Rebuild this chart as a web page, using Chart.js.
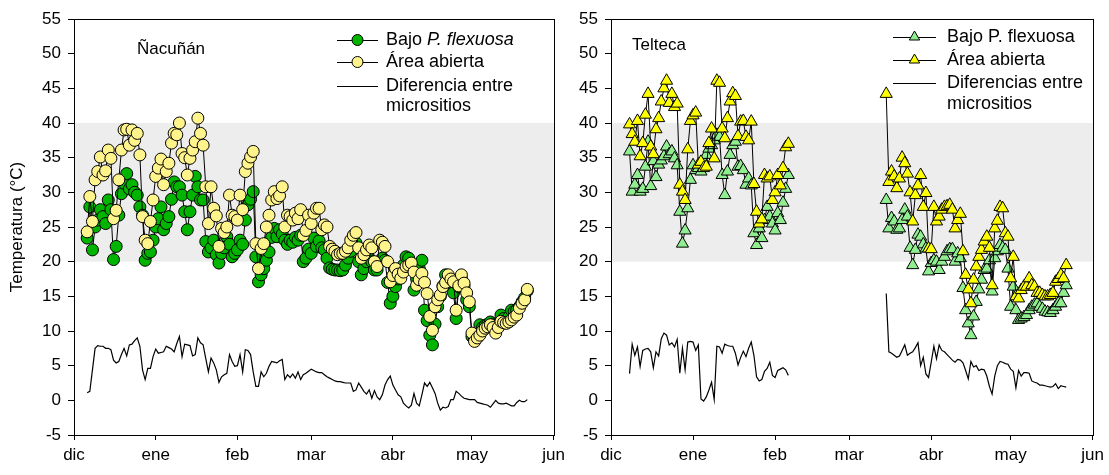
<!DOCTYPE html>
<html>
<head>
<meta charset="utf-8">
<script src="https://cdn.jsdelivr.net/npm/chart.js@4"></script>
<style>
  html, body { margin: 0; padding: 0; background: #fff; width: 1109px; height: 475px; overflow: hidden; }
  #wrap { position: relative; width: 1109px; height: 475px; }
  canvas { position: absolute; top: 0; }
  #left { left: 0; }
  #right { left: 565px; }
</style>
</head>
<body>
<div id="wrap">
  <canvas id="left" width="570" height="475" style="width:570px;height:475px"></canvas>
  <canvas id="right" width="544" height="475" style="width:544px;height:475px"></canvas>
</div>
<script>
// month axis: days counted from 1 December
const monthLabels = ['dic', 'ene', 'feb', 'mar', 'abr', 'may', 'jun'];
const monthDays = [0, 31, 62, 90, 121, 151, 182];
const band = [20, 40];

// Ñacuñán, daily values from day 5 (6 dic) to day 172
const nacStart = 5;
const nacOpen = [
  24.3, 29.4, 25.8, 31.8, 33.0, 35.1, 32.5, 33.1, 36.1, 34.9,
  26.2, 27.4, 31.8, 36.1, 39.0, 39.1, 36.8, 39.0, 37.5, 38.5,
  35.4, 26.5, 23.1, 22.6, 25.8, 28.9, 32.3, 33.5, 34.8, 31.1,
  33.0, 34.2, 37.1, 38.5, 38.3, 40.0, 35.6, 35.0, 32.5, 34.9,
  36.1, 37.3, 40.7, 38.5, 36.8, 30.8, 25.5, 30.8, 27.7, 26.6,
  22.2, 24.8, 24.2, 25.0, 29.6, 26.7, 26.5, 26.0, 29.6, 27.5,
  33.0, 34.2, 35.1, 35.9, 22.6, 19.0, 21.9, 22.6, 25.0, 26.7,
  28.9, 30.1, 29.1, 29.5, 30.8, 25.0, 26.7, 26.5, 26.0, 27.0,
  26.2, 27.5, 23.8, 24.5, 26.7, 25.5, 27.0, 27.7, 27.7, 24.6,
  25.3, 25.0, 22.2, 21.8, 21.5, 21.0, 21.2, 21.2, 21.5, 22.0,
  23.1, 23.8, 24.2, 22.0, 20.5, 21.0, 21.7, 22.4, 22.0, 20.0,
  19.3, 23.1, 22.8, 22.2, 20.0, 17.1, 18.0, 19.0, 18.2, 17.6,
  18.5, 19.3, 19.5, 19.8, 18.5, 16.6, 17.4, 18.3, 17.0, 15.4,
  12.1, 10.1, 13.5, 14.5, 15.2, 16.4, 17.0, 18.1, 17.5, 17.1,
  13.0, 16.5, 18.1, 16.9, 15.5, 14.2, 9.7, 8.5, 9.0, 9.4,
  10.0, 10.4, 10.6, 10.9, 10.5, 9.7, 10.5, 11.4, 11.2, 11.1,
  11.3, 11.6, 12.0, 12.3, 13.3, 14.0, 14.5, 16.0
];
const nacShade = [
  23.4, 27.9, 21.7, 25.0, 26.0, 27.5, 26.5, 25.5, 28.9, 27.5,
  20.3, 22.2, 26.7, 29.8, 31.3, 32.7, 30.5, 31.1, 30.0, 29.6,
  27.9, 26.7, 20.2, 21.2, 21.4, 23.1, 25.0, 26.2, 27.9, 24.6,
  25.5, 26.5, 29.0, 31.5, 30.8, 30.8, 29.6, 27.2, 24.6, 27.2,
  29.6, 32.3, 30.8, 28.9, 28.9, 22.9, 21.4, 22.0, 23.1, 21.0,
  19.8, 21.2, 22.0, 23.6, 22.5, 20.7, 21.2, 21.7, 23.1, 22.5,
  26.0, 28.2, 29.0, 30.1, 20.7, 17.1, 18.1, 19.0, 20.2, 21.4,
  23.5, 24.8, 23.6, 24.6, 24.0, 23.1, 22.5, 23.1, 22.8, 23.5,
  23.1, 23.8, 20.0, 20.5, 21.8, 21.2, 23.4, 22.2, 23.0, 22.0,
  21.7, 20.5, 19.1, 18.9, 18.8, 18.8, 18.7, 18.8, 19.5, 20.5,
  21.5, 22.7, 22.7, 20.0, 18.1, 19.0, 20.0, 20.5, 20.0, 18.8,
  18.8, 20.0, 20.5, 20.2, 17.0, 14.0, 15.0, 16.4, 17.5, 18.5,
  19.5, 20.7, 20.5, 19.0, 15.9, 17.5, 19.0, 20.2, 13.0, 11.5,
  9.4, 8.0, 11.0, 13.5, 15.0, 16.5, 18.1, 17.5, 17.0, 15.5,
  11.8, 16.4, 17.5, 16.5, 14.5, 13.5, 9.2, 8.8, 9.5, 10.9,
  10.5, 10.8, 11.0, 11.3, 11.0, 10.5, 11.0, 12.3, 11.8, 11.5,
  12.0, 13.0, 12.8, 13.0, 13.5, 14.2, 14.8, 15.8
];
const nacDiff = [
  1.1, 1.3, 4.4, 7.5, 7.9, 7.8, 7.8, 7.5, 7.5, 7.3,
  5.8, 5.4, 5.6, 6.6, 7.5, 6.4, 8.0, 8.1, 8.6, 9.0,
  7.8, 4.4, 3.0, 4.6, 4.6, 6.3, 7.4, 6.8, 6.9, 7.0,
  7.8, 7.6, 7.4, 7.0, 8.2, 9.2, 6.3, 8.1, 8.0, 7.9,
  6.4, 6.6, 9.0, 8.3, 8.0, 6.0, 4.1, 6.1, 5.4, 4.4,
  2.6, 3.4, 3.7, 3.9, 6.6, 5.6, 4.9, 5.0, 6.6, 4.1,
  7.3, 7.2, 6.6, 4.1, 2.0, 2.0, 4.1, 3.4, 3.9, 4.9,
  5.6, 5.5, 5.4, 5.7, 5.9, 3.0, 3.7, 3.3, 3.8, 3.2,
  4.1, 3.0, 3.7, 3.9, 4.2, 4.5, 4.3, 4.1, 4.0, 4.0,
  3.7, 3.4, 3.2, 3.0, 2.8, 2.7, 2.7, 2.6, 2.5, 2.5,
  2.5, 1.3, 1.5, 2.5, 1.9, 1.3, 0.9, 1.5, 0.3, 1.4,
  0.5, 0.1, 0.8, 2.2, 3.0, 3.5, 2.2, 1.5, 0.8, 0.5,
  -0.4, -0.8, -1.1, -0.7, 1.0, -0.4, -0.8, 0.8, 2.5, 2.0,
  2.6, 1.8, 1.0, -0.4, -1.4, -1.0, -1.1, -0.9, 0.1, 0.1,
  1.3, 1.0, 0.6, 0.3, 0.2, 0.1, 0.1, 0.1, -0.3, -0.4,
  -0.5, -0.6, -0.7, -1.0, -0.5, 0.0, -0.4, -0.5, -0.5, -0.4,
  -0.6, -0.8, -0.8, -0.3, 0.0, -0.2, -0.2, 0.1
];

// Telteca, two recording periods
const telStart1 = 7;
const telOpen1 = [
  39.8, 38.4, 37.3, 40.3, 35.2, 37.1, 41.2, 44.2, 36.6, 35.5,
  39.1, 40.7, 43.1, 45.0, 46.1, 42.9, 44.2, 42.3, 42.8, 31.1,
  30.1, 28.9, 36.2, 40.3, 41.1, 41.5, 34.0, 34.4, 33.5, 33.7,
  37.1, 39.2, 34.9, 46.1, 45.8, 39.2, 37.8, 40.7, 43.1, 44.3,
  43.9, 38.1, 40.2, 40.3, 38.0, 37.5, 40.2, 31.2, 27.2, 25.5,
  26.1, 32.5, 32.0, 32.3, 28.9, 30.0, 32.5, 31.0, 33.5, 36.5,
  37.0
];
const telShade1 = [
  35.9, 30.1, 31.1, 32.5, 30.1, 30.5, 33.7, 37.3, 30.9, 34.5,
  32.2, 34.0, 34.6, 35.2, 36.6, 35.5, 35.9, 34.9, 33.9, 27.2,
  22.6, 24.5, 27.7, 31.8, 33.9, 33.2, 33.5, 33.0, 34.5, 35.4,
  36.3, 36.8, 37.5, 38.3, 38.0, 32.5, 29.6, 33.0, 35.4, 36.8,
  37.3, 33.7, 33.8, 33.2, 31.1, 32.0, 31.0, 24.1, 22.4, 24.8,
  23.4, 26.0, 27.9, 26.5, 25.5, 24.5, 27.0, 26.0, 28.5, 30.5,
  32.5
];
const telDiff1 = [
  3.85, 8.1, 6.5, 7.7, 4.9, 7.2, 7.4, 7.5, 7.0, 4.7,
  7.0, 6.4, 8.9, 9.7, 9.4, 8.0, 8.3, 7.7, 8.8, 3.9,
  7.5, 4.4, 8.4, 8.5, 8.4, 7.2, 8.0, 0.2, -0.1, 0.5,
  1.5, 2.6, 0.1, 7.8, 7.7, 6.8, 8.1, 7.9, 7.8, 7.8,
  6.8, 5.1, 6.2, 7.1, 6.3, 7.5, 8.4, 6.5, 3.4, 2.8,
  3.0, 4.2, 4.6, 5.5, 3.6, 3.3, 4.3, 4.5, 4.7, 4.4,
  3.6
];
const telStart2 = 104;
const telOpen2 = [
  44.2, 31.5, 33.0, 32.3, 30.6, 32.0, 35.0, 34.2, 32.7, 30.0,
  25.8, 29.6, 31.0, 32.5, 27.9, 29.9, 21.9, 21.8, 27.9, 25.8,
  26.5, 27.5, 27.9, 28.0, 28.2, 27.5, 24.8, 26.0, 26.9, 21.5,
  18.1, 16.0, 14.0, 17.4, 19.3, 20.7, 21.7, 22.9, 23.6, 22.0,
  16.6, 24.8, 25.9, 27.9, 27.7, 24.1, 23.6, 17.6, 20.7, 15.0,
  14.7, 15.9, 16.4, 16.4, 17.6, 16.6, 16.4, 15.5, 15.5, 15.2,
  15.0, 15.0, 15.2, 15.5, 17.1, 17.5, 18.1, 17.6, 19.5
];
const telShade2 = [
  28.9, 24.8, 26.3, 25.8, 24.6, 24.8, 26.0, 27.5, 26.5, 22.0,
  19.5, 21.7, 23.9, 23.6, 22.5, 21.9, 18.6, 19.8, 20.2, 20.0,
  18.8, 20.0, 20.7, 21.5, 21.8, 21.8, 20.0, 21.2, 20.5, 16.2,
  13.0, 11.1, 9.4, 12.1, 14.2, 16.0, 17.4, 18.8, 19.0, 20.2,
  15.7, 20.5, 21.5, 22.4, 22.0, 21.7, 19.0, 13.5, 16.4, 13.0,
  11.6, 11.8, 12.0, 12.3, 13.0, 13.5, 13.8, 14.0, 13.5, 13.2,
  12.8, 12.7, 12.6, 13.0, 13.5, 14.0, 14.0, 15.5, 16.6
];
const telDiff2 = [
  15.4, 7.0, 6.8, 6.5, 6.2, 6.4, 7.2, 8.0, 6.5, 6.8,
  7.0, 7.6, 8.3, 5.0, 6.2, 3.8, 3.3, 5.5, 7.8, 6.0,
  8.0, 7.2, 7.0, 6.6, 6.2, 5.8, 5.5, 5.9, 5.8, 5.4,
  4.3, 3.1, 5.6, 4.8, 5.0, 4.3, 4.5, 4.4, 3.5, 2.0,
  0.9, 3.5, 5.0, 5.6, 5.5, 5.3, 5.2, 4.5, 4.2, 1.8,
  4.3, 3.5, 4.0, 4.0, 3.9, 2.8, 2.6, 2.5, 2.2, 2.2,
  2.1, 2.0, 1.9, 2.0, 2.4, 1.7, 2.1, 2.0, 1.9
];

const FONT = "'Liberation Sans', Arial, sans-serif";
Chart.defaults.font.family = FONT;
Chart.defaults.font.size = 17;
Chart.defaults.color = '#000';

function pts(start, vals) {
  return vals.map((v, i) => ({ x: start + i, y: v }));
}
function twoPeriods(a, b) {
  // null point breaks the line between the two periods
  return [...pts(telStart1, a), { x: telStart1 + a.length, y: null }, ...pts(telStart2, b)];
}

function drawMarker(ctx, type, x, y, r, fill) {
  ctx.beginPath();
  if (type === 'circle') {
    ctx.arc(x, y, r, 0, Math.PI * 2);
  } else {
    let rad = 0;
    for (let k = 0; k < 3; k++) {
      ctx.lineTo(x + Math.sin(rad) * r, y - Math.cos(rad) * r);
      rad += Math.PI * 2 / 3;
    }
    ctx.closePath();
  }
  ctx.fillStyle = fill;
  ctx.fill();
  ctx.lineWidth = 1;
  ctx.strokeStyle = '#000';
  ctx.stroke();
}

const bandPlugin = {
  id: 'band',
  beforeDatasetsDraw(chart) {
    const { ctx, chartArea: a, scales: { y } } = chart;
    const top = y.getPixelForValue(band[1]);
    const bot = y.getPixelForValue(band[0]);
    ctx.save();
    ctx.fillStyle = '#ededed';
    ctx.fillRect(a.left, top, a.right - a.left, bot - top);
    ctx.restore();
  }
};

const decorPlugin = {
  id: 'decor',
  afterDraw(chart, args, o) {
    const { ctx, chartArea: a } = chart;
    ctx.save();
    ctx.strokeStyle = '#000';
    ctx.lineWidth = 1;
    ctx.strokeRect(Math.round(a.left) + 0.5, Math.round(a.top) + 0.5, Math.round(a.right - a.left), Math.round(a.bottom - a.top));

    ctx.fillStyle = '#000';
    ctx.textBaseline = 'middle';
    ctx.font = '17px ' + FONT;
    ctx.fillText(o.title, o.titleX, o.titleY);

    const L = o.legend;
    L.rows.forEach((row, i) => {
      const y = L.y[i];
      if (row.line) {
        ctx.beginPath();
        ctx.moveTo(L.x0, y + 0.5);
        ctx.lineTo(L.x1, y + 0.5);
        ctx.lineWidth = 1;
        ctx.strokeStyle = '#000';
        ctx.stroke();
      }
      if (row.marker) drawMarker(ctx, row.marker, (L.x0 + L.x1) / 2, y, L.r, row.fill);
      let x = L.tx;
      row.text.forEach(part => {
        ctx.font = (part.italic ? 'italic ' : '') + '18px ' + FONT;
        ctx.fillStyle = '#000';
        ctx.fillText(part.t, x, y);
        x += ctx.measureText(part.t).width;
      });
    });
    ctx.restore();
  }
};

function makePanel(id, cfg) {
  return new Chart(document.getElementById(id), {
    type: 'line',
    data: { datasets: cfg.datasets },
    options: {
      responsive: false,
      animation: false,
      events: [],
      layout: { autoPadding: false, padding: { left: 0, right: cfg.padRight, top: 19, bottom: 0 } },
      plugins: { legend: { display: false }, tooltip: { enabled: false }, decor: cfg.decor },
      elements: { line: { tension: 0 } },
      scales: {
        x: {
          type: 'linear',
          min: 0,
          max: 182,
          afterBuildTicks: (axis) => { axis.ticks = monthDays.map(v => ({ value: v })); },
          afterFit: (s) => { s.height = 40; },
          ticks: {
            autoSkip: false,
            maxRotation: 0,
            padding: 5,
            callback: (v) => monthLabels[monthDays.indexOf(v)]
          },
          grid: { drawOnChartArea: false, tickLength: 5, color: '#000' },
          border: { color: '#000', width: 1 }
        },
        y: {
          min: -5,
          max: 55,
          afterFit: (s) => { s.width = cfg.yWidth; },
          ticks: { stepSize: 5, padding: 7 },
          grid: { drawOnChartArea: false, tickLength: 6, color: '#000' },
          border: { color: '#000', width: 1 },
          title: cfg.yTitle ? { display: true, text: cfg.yTitle, padding: { top: 7, bottom: 0 } } : { display: false }
        }
      }
    },
    plugins: [bandPlugin, decorPlugin]
  });
}

const lineStyle = { borderColor: '#000', borderWidth: 1, pointBorderColor: '#000', pointBorderWidth: 1 };

makePanel('left', {
  padRight: 10,
  yWidth: 74,
  yTitle: 'Temperatura (°C)',
  datasets: [
    { label: 'Área abierta', data: pts(nacStart, nacOpen), order: 1, pointStyle: 'circle', pointRadius: 6, pointBackgroundColor: '#fff48c', ...lineStyle },
    { label: 'Bajo P. flexuosa', data: pts(nacStart, nacShade), order: 2, pointStyle: 'circle', pointRadius: 6, pointBackgroundColor: '#00b400', ...lineStyle },
    { label: 'Diferencia entre micrositios', data: pts(nacStart, nacDiff), order: 3, pointRadius: 0, borderColor: '#000', borderWidth: 1.2 }
  ],
  decor: {
    title: 'Ñacuñán', titleX: 137, titleY: 49,
    legend: {
      x0: 337, x1: 378, tx: 386, r: 5.5,
      y: [40, 62, 86, 106],
      rows: [
        { line: true, marker: 'circle', fill: '#00b400', text: [{ t: 'Bajo ' }, { t: 'P. flexuosa', italic: true }] },
        { line: true, marker: 'circle', fill: '#fff48c', text: [{ t: 'Área abierta' }] },
        { line: true, text: [{ t: 'Diferencia entre' }] },
        { text: [{ t: 'micrositios' }] }
      ]
    }
  }
});

makePanel('right', {
  padRight: 12,
  yWidth: 46,
  datasets: [
    { label: 'Área abierta', data: twoPeriods(telOpen1, telOpen2), order: 1, pointStyle: 'triangle', pointRadius: 7, pointBackgroundColor: '#ffff00', spanGaps: false, ...lineStyle },
    { label: 'Bajo P. flexuosa', data: twoPeriods(telShade1, telShade2), order: 2, pointStyle: 'triangle', pointRadius: 7, pointBackgroundColor: '#90ee90', spanGaps: false, ...lineStyle },
    { label: 'Diferencias entre micrositios', data: twoPeriods(telDiff1, telDiff2), order: 3, pointRadius: 0, borderColor: '#000', borderWidth: 1.2, spanGaps: false }
  ],
  decor: {
    title: 'Telteca', titleX: 67, titleY: 45,
    legend: {
      x0: 328, x1: 371, tx: 382, r: 6,
      y: [37, 60, 83, 104],
      rows: [
        { line: true, marker: 'triangle', fill: '#90ee90', text: [{ t: 'Bajo P. flexuosa' }] },
        { line: true, marker: 'triangle', fill: '#ffff00', text: [{ t: 'Área abierta' }] },
        { line: true, text: [{ t: 'Diferencias entre' }] },
        { text: [{ t: 'micrositios' }] }
      ]
    }
  }
});
</script>
</body>
</html>
